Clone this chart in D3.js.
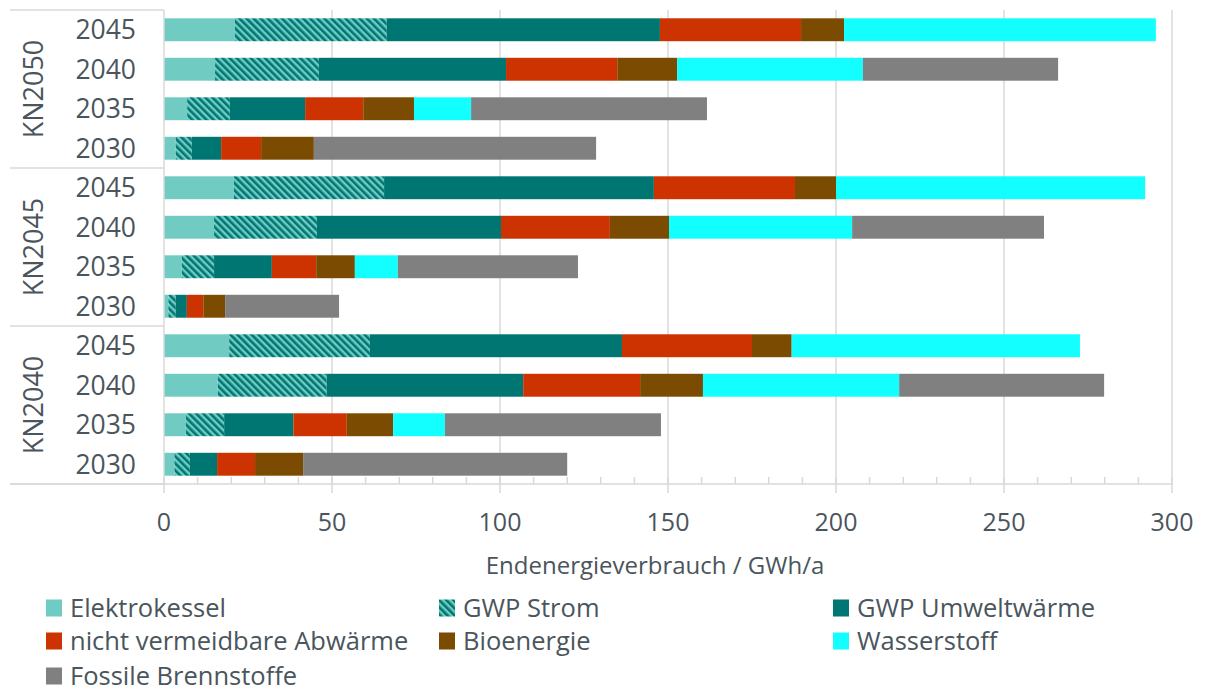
<!DOCTYPE html>
<html><head><meta charset="utf-8">
<script src="https://cdn.jsdelivr.net/npm/d3@7"></script>
<style>body{margin:0;background:#fff}svg{display:block}text{font-family:"Open Sans",sans-serif;fill:#4a555c}</style>
</head><body><svg id="c" width="1209" height="691"></svg>
<script>
// Categories (top to bottom)
const scenarios = ["KN2050", "KN2045", "KN2040"];
const years = ["2045", "2040", "2035", "2030"];
const seriesNames = ["Elektrokessel", "GWP Strom", "GWP Umweltwärme", "nicht vermeidbare Abwärme", "Bioenergie", "Wasserstoff", "Fossile Brennstoffe"];
const seriesColors = ["#70CCC3", "url(#hatch)", "#007672", "#CC3300", "#7A4B00", "#13FFFF", "#808080"];
// values per series, in row order: KN2050 2045..2030, KN2045 2045..2030, KN2040 2045..2030
const elektrokessel = [21.1, 15.2, 6.9, 3.5, 20.8, 14.9, 5.3, 1.3, 19.4, 16.0, 6.5, 3.1];
const gwpStrom      = [45.2, 30.9, 12.7, 4.8, 44.7, 30.6, 9.6, 2.2, 41.9, 32.4, 11.4, 4.6];
const gwpUmwelt     = [81.3, 55.7, 22.4, 8.7, 80.3, 54.8, 17.2, 3.3, 75.0, 58.5, 20.6, 8.1];
const abwaerme      = [42.0, 33.1, 17.3, 11.9, 42.0, 32.4, 13.2, 4.9, 38.7, 34.8, 15.9, 11.3];
const bioenergie    = [12.8, 17.8, 15.1, 15.7, 12.2, 17.6, 11.5, 6.5, 11.8, 18.7, 13.8, 14.3];
const wasserstoff   = [92.8, 55.3, 17.0, 0, 92.0, 54.5, 12.8, 0, 85.8, 58.4, 15.4, 0];
const fossil        = [0, 58.1, 70.2, 84.0, 0, 57.1, 53.6, 33.9, 0, 61.0, 64.3, 78.6];
const xTicks = [0, 50, 100, 150, 200, 250, 300];
const xTitle = "Endenergieverbrauch / GWh/a";

const seriesValues = [elektrokessel, gwpStrom, gwpUmwelt, abwaerme, bioenergie, wasserstoff, fossil];
const rows = [];
scenarios.forEach(s => years.forEach(y => rows.push({key: s + "|" + y, scen: s, year: y})));
rows.forEach((r, i) => seriesNames.forEach((n, j) => r[n] = seriesValues[j][i]));

const svg = d3.select("#c");
const defs = svg.append("defs");
const pat = defs.append("pattern").attr("id", "hatch").attr("patternUnits", "userSpaceOnUse")
  .attr("width", 5).attr("height", 5).attr("patternTransform", "rotate(-45)");
pat.append("rect").attr("width", 5).attr("height", 5).attr("fill", "#70CCC3");
pat.append("rect").attr("width", 2.6).attr("height", 5).attr("fill", "#007672");

const L = 164, R = 1172, T = 10, B = 484;
const x = d3.scaleLinear().domain([0, 300]).range([L, R]);
const y = d3.scaleBand().domain(rows.map(r => r.key)).range([T, B]).paddingInner(0.42).paddingOuter(0.21);

const grid = "#d9d9d9";
// gridlines
svg.append("g").selectAll("line").data(xTicks.slice(1)).join("line")
  .attr("x1", d => x(d)).attr("x2", d => x(d)).attr("y1", T).attr("y2", B)
  .attr("stroke", grid).attr("stroke-width", 1.5);

// stacked bars
const stack = d3.stack().keys(seriesNames)(rows);
const g = svg.append("g");
stack.forEach((layer, j) => {
  g.append("g").attr("fill", seriesColors[j]).selectAll("rect").data(layer).join("rect")
    .attr("x", d => x(d[0])).attr("width", d => Math.max(0, x(d[1]) - x(d[0])))
    .attr("y", d => y(d.data.key)).attr("height", y.bandwidth());
});

// x axis
const ax = svg.append("g");
ax.append("line").attr("x1", 10).attr("x2", R).attr("y1", B).attr("y2", B).attr("stroke", grid).attr("stroke-width", 1.5);
ax.selectAll(".mj").data(xTicks).join("line").attr("x1", d => x(d)).attr("x2", d => x(d))
  .attr("y1", B - 6).attr("y2", B + 9).attr("stroke", grid).attr("stroke-width", 1.5);
ax.selectAll(".mn").data(d3.range(0, 301, 10).filter(v => v % 50)).join("line").attr("x1", d => x(d)).attr("x2", d => x(d))
  .attr("y1", B - 7).attr("y2", B).attr("stroke", grid).attr("stroke-width", 1.5);
ax.selectAll("text").data(xTicks).join("text").attr("x", d => x(d)).attr("y", 531)
  .attr("text-anchor", "middle").attr("font-size", 25).text(d => d);
svg.append("text").attr("x", 655).attr("y", 574).attr("text-anchor", "middle").attr("font-size", 24).text(xTitle);

// y axis
svg.append("line").attr("x1", L).attr("x2", L).attr("y1", T).attr("y2", B).attr("stroke", grid).attr("stroke-width", 1.5);
const step = y.step();
const groupLines = d3.range(scenarios.length + 1).map(i => T + i * step * years.length);
svg.append("g").selectAll("line").data(groupLines).join("line")
  .attr("x1", 10).attr("x2", L).attr("y1", d => d).attr("y2", d => d).attr("stroke", grid).attr("stroke-width", 1.5);
svg.append("g").selectAll("text").data(rows).join("text")
  .attr("x", 136).attr("y", d => y(d.key) + y.bandwidth() / 2).attr("dy", "0.35em")
  .attr("text-anchor", "end").attr("font-size", 26.5).text(d => d.year);
svg.append("g").selectAll("text").data(scenarios).join("text")
  .attr("transform", (d, i) => `translate(${43},${(groupLines[i] + groupLines[i + 1]) / 2}) rotate(-90)`)
  .attr("text-anchor", "middle").attr("font-size", 27).text(d => d);

// legend
const lg = svg.append("g");
const colX = [46, 439, 833], rowY = [608, 641, 676];
seriesNames.forEach((n, i) => {
  const cx = colX[i % 3], cy = rowY[Math.floor(i / 3)];
  lg.append("rect").attr("x", cx).attr("y", cy - 8.5).attr("width", 16).attr("height", 17).attr("fill", seriesColors[i]);
  lg.append("text").attr("x", cx + 24).attr("y", cy).attr("dy", "0.35em").attr("font-size", 25.5).text(n);
});
</script></body></html>
